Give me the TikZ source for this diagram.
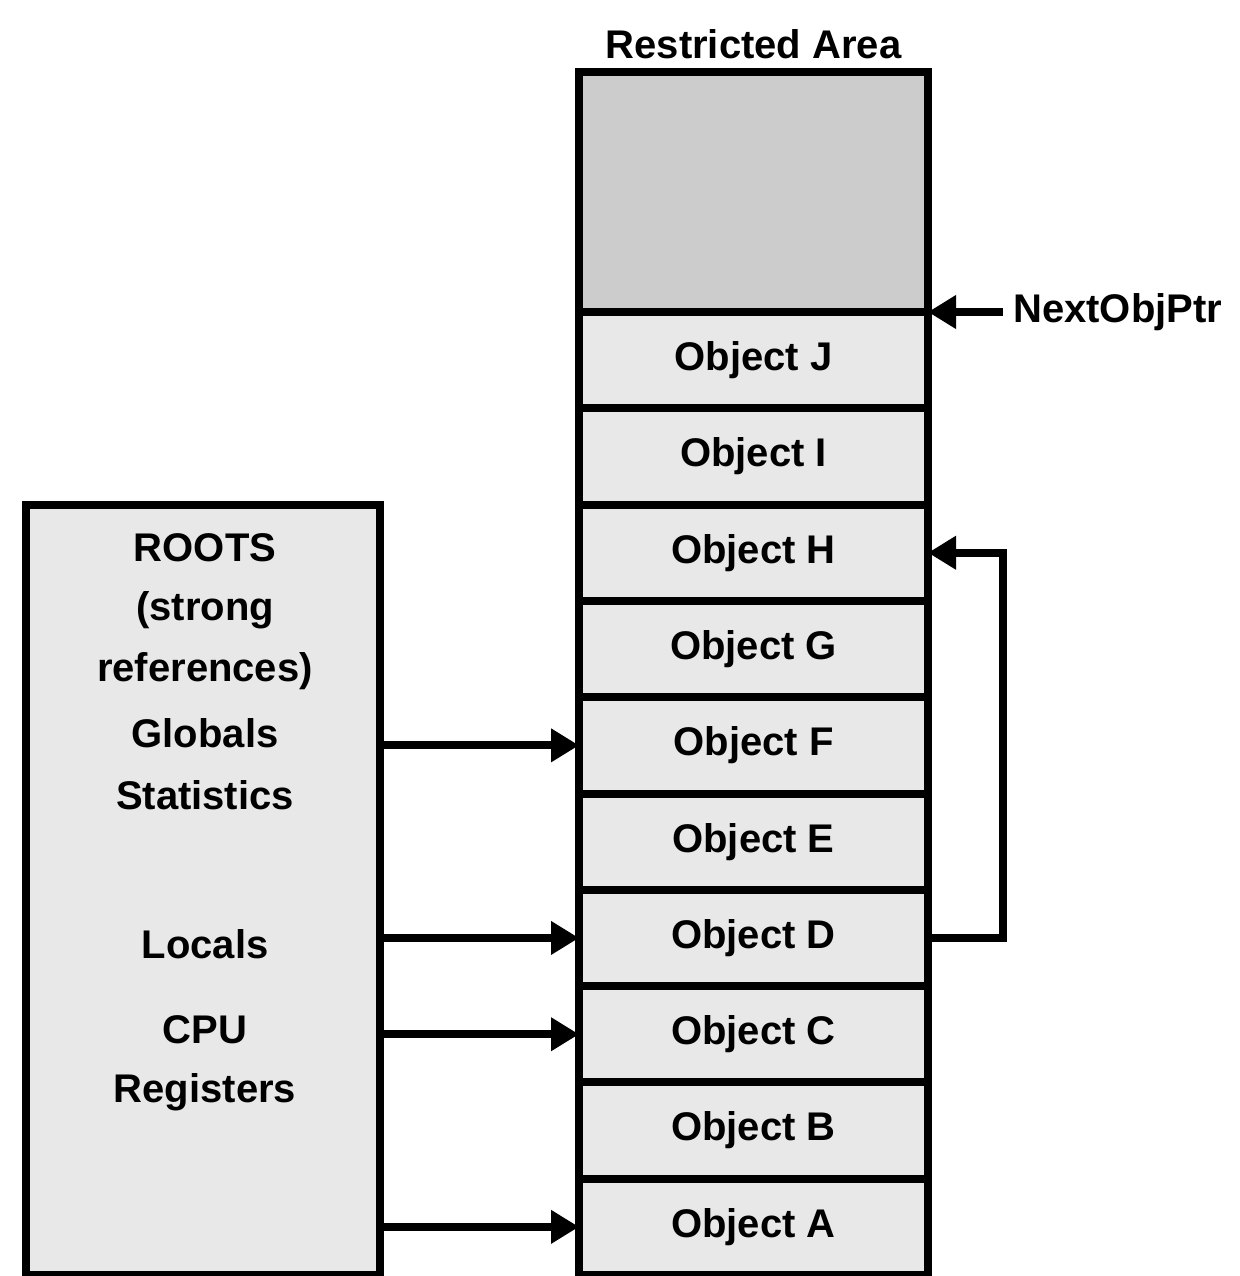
\documentclass[tikz,border=0pt]{standalone}
\usepackage{fontspec}
\setmainfont{Liberation Sans}
\usetikzlibrary{arrows.meta}
\begin{document}
\begin{tikzpicture}[x=1pt,y=-1pt,
  box/.style={draw,line width=8pt,inner sep=0pt,outer sep=0pt},
  obj/.style={box,fill=black!9,minimum width=349pt,minimum height=96.3pt,
    font=\fontsize{40}{44}\selectfont\bfseries},
  conn/.style={line width=8pt,-{Triangle[length=28pt,width=32pt]}},
  lbl/.style={font=\fontsize{40}{44}\selectfont\bfseries,inner sep=0pt}]
\useasboundingbox (0,0) rectangle (1239,1276);
% restricted area column
\node[box,fill=black!20,minimum width=349pt,minimum height=240pt] (free) at (753.5,192) {};
\foreach \n [count=\i from 0] in {J,I,H,G,F,E,D,C,B,A}
  \node[obj] (\n) at (753.5,{312+(\i+0.5)*96.3}) {Object \n};
\node[lbl] (title) at (753.5,44) {Restricted Area};
% roots box
\node[box,fill=black!9,minimum width=354pt,minimum height=770pt] (roots) at (203,890) {};
\node[lbl] (r1) at (205,548) {ROOTS};
\node[lbl] (r2) at (205,610) {(strong};
\node[lbl] (r3) at (205,671) {references)};
\node[lbl] (r4) at (205,733) {Globals};
\node[lbl] (r5) at (205,795) {Statistics};
\node[lbl] (r6) at (205,944) {Locals};
\node[lbl] (r7) at (205,1030) {CPU};
\node[lbl] (r8) at (205,1092) {Registers};
% arrows from roots
\draw[conn] (roots.east |- F) -- (F.west);
\draw[conn] (roots.east |- D) -- (D.west);
\draw[conn] (roots.east |- C) -- (C.west);
\draw[conn] (roots.east |- A) -- (A.west);
% D -> H
\draw[conn] (D.east) -- ++(75,0) |- (H.east);
% NextObjPtr
\node[lbl,anchor=west] (ptr) at (1013,312) {NextObjPtr};
\draw[conn,shorten <=10pt] (ptr.west) -- (J.north east);
\end{tikzpicture}
\end{document}
